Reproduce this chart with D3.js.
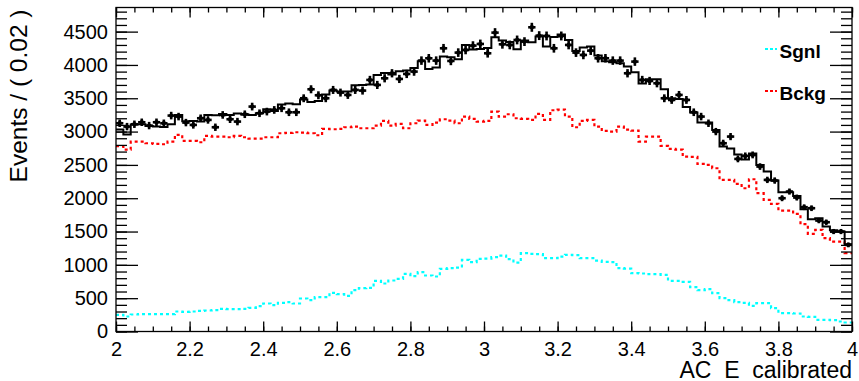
<!DOCTYPE html>
<html>
<head>
<meta charset="utf-8">
<script src="https://cdn.jsdelivr.net/npm/d3@7"></script>
<style>
  html, body { margin: 0; padding: 0; background: #fff; }
  svg { display: block; font-family: "Liberation Sans", Arial, sans-serif; }
</style>
</head>
<body>
<svg id="chart" width="859" height="381"></svg>
<script>
// binning of AC_E_calibrated: 100 bins of 0.02 from 2 to 4
const binLo = 2, binW = 0.02;

// observed events per bin
const dataCounts = [
  3125, 3075, 3110, 3140, 3090, 3140, 3125, 3240, 3225, 3135,
  3100, 3200, 3175, 3065, 3250, 3185, 3150, 3260, 3375, 3275,
  3300, 3325, 3350, 3290, 3290, 3500, 3635, 3545, 3500, 3625,
  3585, 3550, 3625, 3615, 3775, 3700, 3800, 3875, 3790, 3865,
  3900, 4065, 4100, 4065, 4250, 4060, 4185, 4225, 4290, 4315,
  4175, 4485, 4310, 4300, 4375, 4350, 4565, 4440, 4435, 4250,
  4435, 4300, 4185, 4150, 4215, 4100, 4100, 4065, 4065, 3875,
  4050, 3775, 3760, 3725, 3500, 3475, 3550, 3475, 3290, 3225,
  3125, 3000, 2825, 2925, 2590, 2635, 2650, 2475, 2275, 2265,
  2000, 2100, 2010, 1865, 1850, 1665, 1640, 1500, 1500, 1300
];

// signal component (Sgnl)
const sgnl = [
  250, 225, 255, 260, 260, 260, 260, 260, 300, 295,
  300, 310, 315, 320, 340, 335, 335, 340, 355, 380,
  420, 395, 430, 440, 420, 495, 470, 515, 515, 580,
  560, 535, 620, 650, 655, 760, 720, 765, 790, 865,
  830, 890, 840, 825, 940, 950, 960, 1075, 1040, 1090,
  1095, 1115, 1140, 1085, 1035, 1175, 1165, 1160, 1100, 1100,
  1125, 1150, 1145, 1100, 1100, 1065, 1045, 1040, 950, 945,
  875, 870, 860, 860, 850, 760, 760, 745, 665, 620,
  635, 575, 500, 470, 440, 430, 385, 425, 425, 350,
  275, 275, 270, 225, 220, 175, 175, 170, 150, 135
];

// background component (Bckg)
const bckg = [
  2780, 2730, 2850, 2850, 2825, 2815, 2810, 2850, 2950, 2860,
  2860, 2840, 2935, 2925, 2925, 2915, 2935, 2915, 2895, 2895,
  2915, 2915, 2975, 2980, 2990, 2985, 2975, 2945, 3040, 3035,
  3040, 3065, 3075, 3050, 3050, 3090, 3160, 3090, 3115, 3050,
  3125, 3165, 3100, 3135, 3185, 3165, 3125, 3225, 3190, 3150,
  3160, 3300, 3225, 3260, 3200, 3190, 3175, 3265, 3175, 3320,
  3330, 3225, 3065, 3160, 3175, 3075, 3010, 3000, 3075, 3030,
  3015, 2850, 2925, 2925, 2785, 2740, 2730, 2625, 2620, 2515,
  2500, 2450, 2275, 2275, 2215, 2150, 2285, 2075, 1975, 1915,
  1815, 1815, 1765, 1610, 1465, 1525, 1400, 1350, 1350, 1175
];

const xTicks = [2, 2.2, 2.4, 2.6, 2.8, 3, 3.2, 3.4, 3.6, 3.8, 4];
const yTicks = [0, 500, 1000, 1500, 2000, 2500, 3000, 3500, 4000, 4500];
const legendItems = [
  { label: 'Sgnl', color: '#00ffff' },
  { label: 'Bckg', color: '#ff0000' }
];

const W = 859, H = 381;
const margin = { top: 7.5, right: 7, bottom: 49.5, left: 116 };
const yMax = 4862;

const x = d3.scaleLinear([2, 4], [margin.left, W - margin.right]);
const y = d3.scaleLinear([0, yMax], [H - margin.bottom, margin.top]);

const svg = d3.select('#chart');

const total = sgnl.map((s, i) => s + bckg[i]);

// step curve through bin edges
function stepPath(vals) {
  const pts = vals.map((v, i) => [binLo + i * binW, v]);
  pts.push([binLo + vals.length * binW, vals[vals.length - 1]]);
  return d3.line()
    .x((d) => x(d[0]))
    .y((d) => y(d[1]))
    .curve(d3.curveStepAfter)(pts);
}

const plot = svg.append('g');

// components
plot.append('path')
  .attr('d', stepPath(sgnl))
  .attr('fill', 'none')
  .attr('stroke', '#00ffff')
  .attr('stroke-width', 2.2)
  .attr('stroke-dasharray', '3,3');

plot.append('path')
  .attr('d', stepPath(bckg))
  .attr('fill', 'none')
  .attr('stroke', '#ff0000')
  .attr('stroke-width', 2.2)
  .attr('stroke-dasharray', '3,3');

// total fit
plot.append('path')
  .attr('d', stepPath(total))
  .attr('fill', 'none')
  .attr('stroke', '#000')
  .attr('stroke-width', 2);

// data points with errors
const pts = plot.append('g')
  .selectAll('g')
  .data(dataCounts)
  .join('g')
  .attr('stroke', '#000')
  .attr('stroke-width', 2.6);

pts.append('line')
  .attr('x1', (d, i) => x(binLo + i * binW))
  .attr('x2', (d, i) => x(binLo + (i + 1) * binW))
  .attr('y1', (d) => y(d))
  .attr('y2', (d) => y(d));

pts.append('line')
  .attr('x1', (d, i) => x(binLo + (i + 0.5) * binW))
  .attr('x2', (d, i) => x(binLo + (i + 0.5) * binW))
  .attr('y1', (d) => y(d + Math.sqrt(d)))
  .attr('y2', (d) => y(d - Math.sqrt(d)));

pts.append('circle')
  .attr('cx', (d, i) => x(binLo + (i + 0.5) * binW))
  .attr('cy', (d) => y(d))
  .attr('r', 2.2)
  .attr('fill', '#000')
  .attr('stroke', 'none');

// axes
const xMinor = d3.range(2, 4.0001, 0.05);
const yMinor = d3.range(0, yMax, 100);
const plotH = H - margin.bottom - margin.top;
const plotW = W - margin.right - margin.left;

function styleAxis(g) {
  g.select('.domain').remove();
  g.selectAll('.tick line').attr('stroke', '#000').attr('stroke-width', 1.3);
  g.selectAll('.tick text').attr('fill', '#000').attr('font-size', 20);
}

svg.append('g')
  .attr('transform', `translate(0,${H - margin.bottom})`)
  .call(d3.axisBottom(x).tickValues(xMinor).tickSizeInner(-5).tickSizeOuter(0).tickFormat(''))
  .call(styleAxis);
svg.append('g')
  .attr('transform', `translate(0,${H - margin.bottom})`)
  .call(d3.axisBottom(x).tickValues(xTicks).tickSizeInner(-10).tickSizeOuter(0).tickPadding(10).tickFormat(d3.format('')))
  .call(styleAxis);

svg.append('g')
  .attr('transform', `translate(0,${margin.top})`)
  .call(d3.axisTop(x).tickValues(xMinor).tickSizeInner(-5).tickSizeOuter(0).tickFormat(''))
  .call(styleAxis);
svg.append('g')
  .attr('transform', `translate(0,${margin.top})`)
  .call(d3.axisTop(x).tickValues(xTicks).tickSizeInner(-10).tickSizeOuter(0).tickFormat(''))
  .call(styleAxis);

svg.append('g')
  .attr('transform', `translate(${margin.left},0)`)
  .call(d3.axisLeft(y).tickValues(yMinor).tickSizeInner(-11).tickSizeOuter(0).tickFormat(''))
  .call(styleAxis);
svg.append('g')
  .attr('transform', `translate(${margin.left},0)`)
  .call(d3.axisLeft(y).tickValues(yTicks).tickSizeInner(-22).tickSizeOuter(0).tickPadding(8).tickFormat(d3.format('d')))
  .call(styleAxis);

svg.append('g')
  .attr('transform', `translate(${W - margin.right},0)`)
  .call(d3.axisRight(y).tickValues(yMinor).tickSizeInner(-11).tickSizeOuter(0).tickFormat(''))
  .call(styleAxis);
svg.append('g')
  .attr('transform', `translate(${W - margin.right},0)`)
  .call(d3.axisRight(y).tickValues(yTicks).tickSizeInner(-22).tickSizeOuter(0).tickFormat(''))
  .call(styleAxis);

// frame
svg.append('rect')
  .attr('x', margin.left)
  .attr('y', margin.top)
  .attr('width', plotW)
  .attr('height', plotH)
  .attr('fill', 'none')
  .attr('stroke', '#000')
  .attr('stroke-width', 1.3);

// titles
svg.append('text')
  .attr('x', W - margin.right)
  .attr('y', 378)
  .attr('text-anchor', 'end')
  .attr('font-size', 23)
  .text('AC_E_calibrated');

svg.append('text')
  .attr('transform', `translate(27,${margin.top + 2}) rotate(-90)`)
  .attr('text-anchor', 'end')
  .attr('font-size', 24.5)
  .text('Events / ( 0.02 )');

// legend
const leg = svg.append('g')
  .selectAll('g')
  .data(legendItems)
  .join('g')
  .attr('transform', (d, i) => `translate(765,${49 + i * 42})`);

leg.append('line')
  .attr('x1', 0).attr('x2', 12)
  .attr('stroke', (d) => d.color)
  .attr('stroke-width', 2.2)
  .attr('stroke-dasharray', '3,2');

leg.append('text')
  .attr('x', 14.5)
  .attr('y', 8.5)
  .attr('font-size', 19)
  .attr('font-weight', 'bold')
  .text((d) => d.label);
</script>
</body>
</html>
